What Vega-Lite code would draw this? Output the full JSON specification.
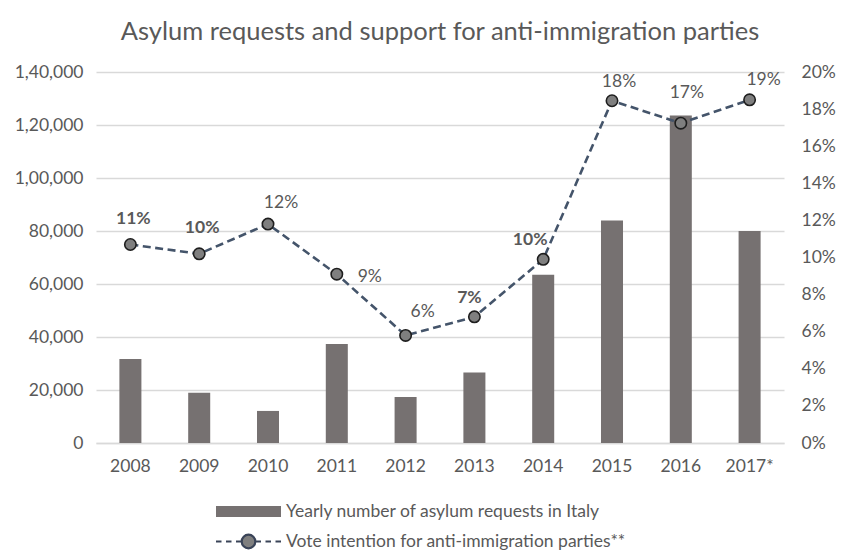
{
  "$schema": "https://vega.github.io/schema/vega-lite/v6.json",
  "width": 688,
  "height": 371,
  "autosize": {"type": "none"},
  "padding": {"left": 96, "top": 72, "right": 57, "bottom": 112},
  "background": "white",
  "title": {
    "text": "Asylum requests and support for anti-immigration parties",
    "font": "Lato",
    "fontSize": 25.5,
    "fontWeight": "normal",
    "color": "#595959",
    "anchor": "middle",
    "frame": "group",
    "offset": 18
  },
  "config": {
    "view": {"stroke": null},
    "font": "Lato",
    "axis": {"labelFont": "Lato", "labelFontSize": 17, "labelColor": "#595959", "titleColor": "#595959"}
  },
  "data": {
    "values": [
      {"year": "2008", "asylum": 31700, "vote": 0.107, "label": "11%"},
      {"year": "2009", "asylum": 19000, "vote": 0.102, "label": "10%"},
      {"year": "2010", "asylum": 12100, "vote": 0.118, "label": "12%"},
      {"year": "2011", "asylum": 37350, "vote": 0.091, "label": "9%"},
      {"year": "2012", "asylum": 17350, "vote": 0.058, "label": "6%"},
      {"year": "2013", "asylum": 26620, "vote": 0.068, "label": "7%"},
      {"year": "2014", "asylum": 63450, "vote": 0.099, "label": "10%"},
      {"year": "2015", "asylum": 83970, "vote": 0.1845, "label": "18%"},
      {"year": "2016", "asylum": 123600, "vote": 0.1724, "label": "17%"},
      {"year": "2017*", "asylum": 80000, "vote": 0.185, "label": "19%"}
    ]
  },
  "encoding": {
    "x": {
      "field": "year",
      "type": "nominal",
      "sort": null,
      "scale": {"paddingInner": 0.68, "paddingOuter": 0.34},
      "axis": {
        "title": null,
        "labelAngle": 0,
        "ticks": false,
        "domainColor": "#d9d9d9",
        "domainWidth": 1.5,
        "labelPadding": 14,
        "labelFontSize": 17.5
      }
    }
  },
  "layer": [
    {
      "layer": [
        {
          "mark": {"type": "bar", "color": "#767171"},
          "encoding": {
            "y": {
              "field": "asylum",
              "type": "quantitative",
              "scale": {"domain": [0, 140000], "nice": false},
              "axis": {
                "title": null,
                "orient": "left",
                "values": [0, 20000, 40000, 60000, 80000, 100000, 120000, 140000],
                "labelExpr": "datum.value >= 100000 ? '1,' + format((datum.value - 100000) / 1000, '02d') + ',000' : format(datum.value, ',')",
                "domain": false,
                "ticks": false,
                "grid": true,
                "gridColor": "#d9d9d9",
                "gridWidth": 1.3,
                "labelPadding": 13,
                "labelFontSize": 17.5
              }
            },
            "color": {
              "datum": "Yearly number of asylum requests in Italy",
              "type": "nominal",
              "scale": {
                "domain": ["Yearly number of asylum requests in Italy", "Vote intention for anti-immigration parties**"],
                "range": ["#767171", "#7f7f7f"]
              },
              "legend": {
                "title": null,
                "orient": "none",
                "legendX": 141,
                "legendY": 428,
                "direction": "vertical",
                "padding": 0,
                "symbolSize": 400,
                "rowPadding": 8,
                "labelOffset": 26,
                "labelFont": "Lato",
                "labelFontSize": 17.5,
                "labelColor": "#595959",
                "labelLimit": 500,
                "symbolStrokeWidth": 2.2,
                "encoding": {
                  "symbols": {
                    "shape": {"value": {"expr": "datum.value == 'Yearly number of asylum requests in Italy' ? 'M-3.25,-0.55H3.25V0.55H-3.25Z' : 'M-3.25,0H-2.7M-2.25,0H-1.7M-1.25,0H-0.72M0.72,0H1.25M1.7,0H2.25M2.7,0H3.25M0.68,0A0.68,0.68 0 1,1 -0.68,0A0.68,0.68 0 1,1 0.68,0Z'"}},
                    "fill": {"value": {"expr": "datum.value == 'Yearly number of asylum requests in Italy' ? '#767171' : '#7f7f7f'"}},
                    "stroke": {"value": {"expr": "datum.value == 'Yearly number of asylum requests in Italy' ? 'transparent' : '#3a4458'"}},
                    "strokeWidth": {"value": 2.2},
                    "opacity": {"value": 1},
                    "fillOpacity": {"value": 1}
                  }
                }
              }
            }
          }
        }
      ]
    },
    {
      "encoding": {
        "y": {
          "field": "vote",
          "type": "quantitative",
          "scale": {"domain": [0, 0.2], "nice": false},
          "axis": {
            "title": null,
            "orient": "right",
            "format": ".0%",
            "values": [0, 0.02, 0.04, 0.06, 0.08, 0.1, 0.12, 0.14, 0.16, 0.18, 0.2],
            "domain": false,
            "ticks": false,
            "grid": false,
            "labelPadding": 17,
            "labelFontSize": 17.5
          }
        }
      },
      "layer": [
        {
          "mark": {"type": "line", "strokeDash": [8, 4.5], "strokeWidth": 2.6, "color": "#44546a"},
          "encoding": {}
        },
        {
          "mark": {"type": "point", "filled": true, "size": 130, "fill": "#7f7f7f", "stroke": "#1e1e1e", "strokeWidth": 1.6, "opacity": 1},
          "encoding": {}
        },
        {
          "transform": [{"filter": {"field": "year", "oneOf": ["2008", "2009"]}}],
          "mark": {"type": "text", "font": "Lato", "fontSize": 17.5, "fontWeight": "bold", "color": "#595959", "dx": 3, "dy": -26},
          "encoding": {"text": {"field": "label"}}
        },
        {
          "transform": [{"filter": {"field": "year", "oneOf": ["2010"]}}],
          "mark": {"type": "text", "font": "Lato", "fontSize": 17.5, "color": "#595959", "dx": 13, "dy": -21},
          "encoding": {"text": {"field": "label"}}
        },
        {
          "transform": [{"filter": {"field": "year", "oneOf": ["2011"]}}],
          "mark": {"type": "text", "font": "Lato", "fontSize": 17.5, "color": "#595959", "dx": 33, "dy": 3},
          "encoding": {"text": {"field": "label"}}
        },
        {
          "transform": [{"filter": {"field": "year", "oneOf": ["2012"]}}],
          "mark": {"type": "text", "font": "Lato", "fontSize": 17.5, "color": "#595959", "dx": 17, "dy": -23},
          "encoding": {"text": {"field": "label"}}
        },
        {
          "transform": [{"filter": {"field": "year", "oneOf": ["2013"]}}],
          "mark": {"type": "text", "font": "Lato", "fontSize": 17.5, "fontWeight": "bold", "color": "#595959", "dx": -5, "dy": -19},
          "encoding": {"text": {"field": "label"}}
        },
        {
          "transform": [{"filter": {"field": "year", "oneOf": ["2014"]}}],
          "mark": {"type": "text", "font": "Lato", "fontSize": 17.5, "fontWeight": "bold", "color": "#595959", "dx": -13, "dy": -19},
          "encoding": {"text": {"field": "label"}}
        },
        {
          "transform": [{"filter": {"field": "year", "oneOf": ["2015"]}}],
          "mark": {"type": "text", "font": "Lato", "fontSize": 17.5, "color": "#595959", "dx": 7, "dy": -19},
          "encoding": {"text": {"field": "label"}}
        },
        {
          "transform": [{"filter": {"field": "year", "oneOf": ["2016"]}}],
          "mark": {"type": "text", "font": "Lato", "fontSize": 17.5, "color": "#595959", "dx": 6, "dy": -30},
          "encoding": {"text": {"field": "label"}}
        },
        {
          "transform": [{"filter": {"field": "year", "oneOf": ["2017*"]}}],
          "mark": {"type": "text", "font": "Lato", "fontSize": 17.5, "color": "#595959", "dx": 14, "dy": -20},
          "encoding": {"text": {"field": "label"}}
        }
      ]
    }
  ],
  "resolve": {"scale": {"y": "independent"}}
}
